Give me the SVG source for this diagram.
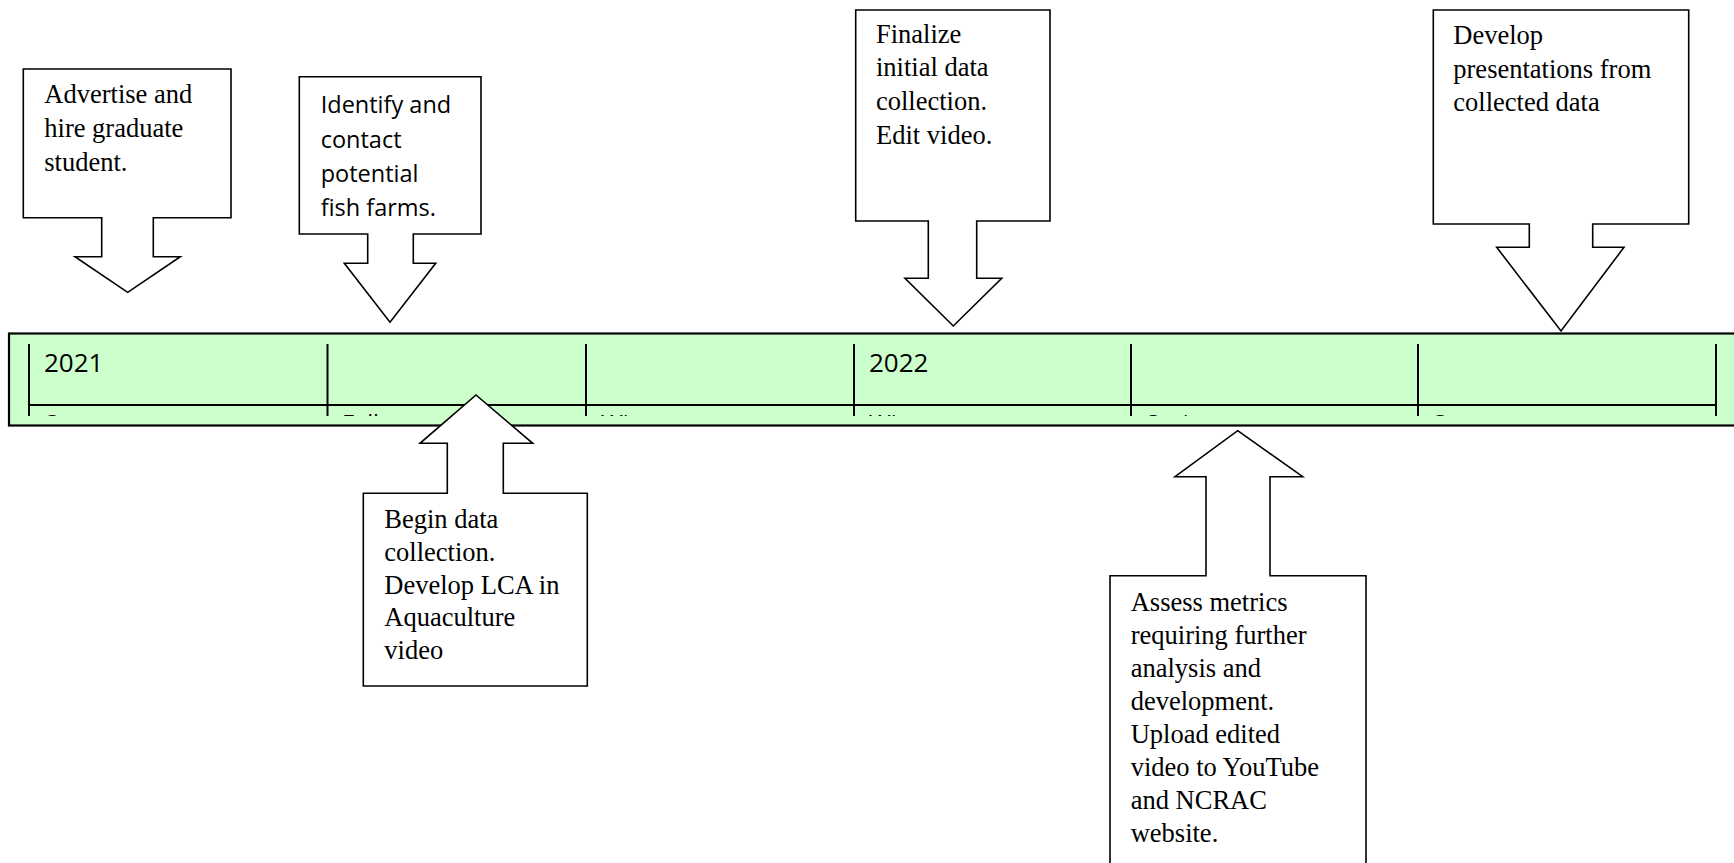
<svg xmlns="http://www.w3.org/2000/svg" width="1734" height="863" viewBox="0 0 1734 863">
<style>
.bg{fill:#ffffff}
.band{fill:#ccffcc;stroke:#000;stroke-width:2.2}
.grid{stroke:#000;stroke-width:2;fill:none}
.callout{fill:#ffffff;stroke:#000;stroke-width:1.6;stroke-linejoin:miter}
.tm{font-family:"Liberation Serif","Times New Roman",serif;font-size:26.5px;fill:#000}
.cb{font-family:"Open Sans","Noto Sans",sans-serif;font-size:23.5px;fill:#000}
.yr{font-family:"Open Sans","Noto Sans",sans-serif;font-size:26px;fill:#000}
</style>
<defs>
<clipPath id="tableClip"><rect x="0" y="340" width="1734" height="76"/></clipPath>
</defs>
<rect class="bg" x="0" y="0" width="1734" height="863"/>

<g id="timeline">
<rect class="band" x="9" y="333.5" width="1740" height="92"/>
<g clip-path="url(#tableClip)">
<line class="grid" x1="29" y1="344" x2="29" y2="416"/>
<line class="grid" x1="327.5" y1="344" x2="327.5" y2="416"/>
<line class="grid" x1="586" y1="344" x2="586" y2="416"/>
<line class="grid" x1="854" y1="344" x2="854" y2="416"/>
<line class="grid" x1="1131" y1="344" x2="1131" y2="416"/>
<line class="grid" x1="1418" y1="344" x2="1418" y2="416"/>
<line class="grid" x1="1716" y1="344" x2="1716" y2="416"/>
<line class="grid" x1="28" y1="405" x2="1717" y2="405"/>
<text class="yr" x="44" y="372">2021</text>
<text class="yr" x="869" y="372">2022</text>
<text class="cb" x="45" y="432">Summer</text>
<text class="cb" x="342" y="432">Fall</text>
<text class="cb" x="601" y="432">Winter</text>
<text class="cb" x="869" y="432">Winter</text>
<text class="cb" x="1146" y="432">Spring</text>
<text class="cb" x="1433" y="432">Summer</text>
</g>
</g>

<g id="n-advertise">
<polygon class="callout" points="23.3,69 231,69 231,217.7 153.3,217.7 153.3,256.7 180.3,256.7 127.7,292.3 75,256.7 101.7,256.7 101.7,217.7 23.3,217.7"/>
<text class="tm" x="44.3" y="103.3">Advertise and</text>
<text class="tm" x="44.3" y="137">hire graduate</text>
<text class="tm" x="44.3" y="170.5">student.</text>
</g>

<g id="n-identify">
<polygon class="callout" points="299.3,76.7 481,76.7 481,234 413.3,234 413.3,263.3 435.7,263.3 390,322.3 344.3,263.3 367.7,263.3 367.7,234 299.3,234"/>
<text class="cb" x="320.7" y="113.3">Identify and</text>
<text class="cb" x="320.7" y="147.5">contact</text>
<text class="cb" x="320.7" y="181.7">potential</text>
<text class="cb" x="320.7" y="216">fish farms.</text>
</g>

<g id="n-finalize">
<polygon class="callout" points="855.7,10 1050,10 1050,221 976.7,221 976.7,278.3 1001.7,278.3 953.3,326 905,278.3 928.3,278.3 928.3,221 855.7,221"/>
<text class="tm" x="876" y="42.7">Finalize</text>
<text class="tm" x="876" y="76.3">initial data</text>
<text class="tm" x="876" y="110">collection.</text>
<text class="tm" x="876" y="143.7">Edit video.</text>
</g>

<g id="n-develop">
<polygon class="callout" points="1433.3,10 1688.7,10 1688.7,224 1592.7,224 1592.7,247.3 1624,247.3 1561,331 1496.7,247.3 1529.3,247.3 1529.3,224 1433.3,224"/>
<text class="tm" x="1453.3" y="44">Develop</text>
<text class="tm" x="1453.3" y="77.7">presentations from</text>
<text class="tm" x="1453.3" y="111.3">collected data</text>
</g>

<g id="n-begin">
<polygon class="callout" points="476,395 532.7,443.3 503.3,443.3 503.3,493.3 587.3,493.3 587.3,686 363.3,686 363.3,493.3 447.3,493.3 447.3,443.3 420,443.3"/>
<text class="tm" x="384.3" y="528.3">Begin data</text>
<text class="tm" x="384.3" y="561">collection.</text>
<text class="tm" x="384.3" y="593.7">Develop LCA in</text>
<text class="tm" x="384.3" y="626.4">Aquaculture</text>
<text class="tm" x="384.3" y="659">video</text>
</g>

<g id="n-assess">
<polygon class="callout" points="1237.7,430.7 1302.7,476.7 1270,476.7 1270,575.7 1366,575.7 1366,880 1110,880 1110,575.7 1206,575.7 1206,476.7 1175,476.7"/>
<text class="tm" x="1130.7" y="611">Assess metrics</text>
<text class="tm" x="1130.7" y="644">requiring further</text>
<text class="tm" x="1130.7" y="677">analysis and</text>
<text class="tm" x="1130.7" y="710">development.</text>
<text class="tm" x="1130.7" y="743">Upload edited</text>
<text class="tm" x="1130.7" y="776">video to YouTube</text>
<text class="tm" x="1130.7" y="809">and NCRAC</text>
<text class="tm" x="1130.7" y="842">website.</text>
</g>

<g id="connectors"></g>
</svg>
